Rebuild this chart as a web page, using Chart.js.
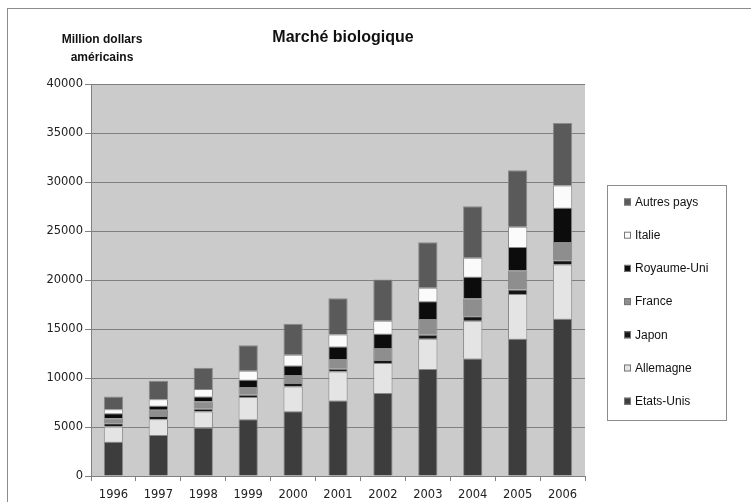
<!DOCTYPE html>
<html>

<head>
  <meta charset="utf-8">
  <title>Marché biologique</title>
  <style>
    html, body {
      margin: 0;
      padding: 0;
      background: #fff;
    }

    .wrap {
      position: relative;
      width: 751px;
      height: 502px;
    }
  </style>
</head>

<body>
  <div class="wrap">
    <canvas id="bio-chart" width="751" height="502"></canvas>
  </div>

  <script src="https://cdn.jsdelivr.net/npm/chart.js"></script>

  <script>
    // values, million USD
    const years = ['1996', '1997', '1998', '1999', '2000', '2001', '2002', '2003', '2004', '2005', '2006'];
    const etatsUnis = [3500, 4190, 4940, 5800, 6610, 7700, 8460, 10910, 12000, 14010, 16050];
    const allemagne = [1540, 1610, 1640, 2250, 2520, 2970, 3060, 3100, 3850, 4570, 5520];
    const japon = [350, 330, 270, 230, 350, 270, 310, 410, 440, 440, 440];
    const france = [510, 620, 750, 790, 820, 990, 1230, 1600, 1810, 1940, 1880];
    const royaumeUni = [510, 410, 510, 750, 980, 1290, 1460, 1800, 2220, 2420, 3480];
    const italie = [410, 680, 760, 920, 1090, 1230, 1330, 1400, 1940, 2050, 2280];
    const autresPays = [1290, 1870, 2170, 2590, 3170, 3680, 4190, 4640, 5270, 5760, 6370];
    const yTicks = [0, 5000, 10000, 15000, 20000, 25000, 30000, 35000, 40000];

    const tickFont = { family: 'DejaVu Sans', size: 11.5 };

    function ds(label, data, color) {
      return {
        label: label,
        data: data,
        backgroundColor: color,
        borderColor: '#8a8a8a',
        borderWidth: 1,
        barPercentage: 0.43,
        categoryPercentage: 1
      };
    }

    // frame, titles, plot background and legend box
    const decor = {
      id: 'decor',
      beforeDraw(chart) {
        const { ctx, chartArea: a } = chart;
        ctx.save();
        ctx.fillStyle = '#fff';
        ctx.fillRect(0, 0, chart.width, chart.height);
        // outer frame runs off the right and bottom edges
        ctx.strokeStyle = '#8c8c8c';
        ctx.lineWidth = 1;
        ctx.strokeRect(7.5, 8.5, 800, 600);
        ctx.fillStyle = '#cbcbcb';
        ctx.fillRect(a.left, a.top, a.right - a.left, a.bottom - a.top);
        ctx.restore();
      },
      afterDraw(chart) {
        const { ctx } = chart;
        ctx.save();
        ctx.fillStyle = '#111';
        ctx.textAlign = 'center';
        ctx.textBaseline = 'middle';
        ctx.font = 'bold 16px "Liberation Sans"';
        ctx.fillText('Marché biologique', 343, 38);
        ctx.font = 'bold 12px "Liberation Sans"';
        ctx.fillText('Million dollars', 102, 40);
        ctx.fillText('américains', 102, 58);

        // legend, last series on top
        ctx.strokeStyle = '#8c8c8c';
        ctx.strokeRect(607.5, 185.5, 119, 235);
        ctx.textAlign = 'left';
        ctx.font = '12px "Liberation Sans"';
        const sets = chart.data.datasets.slice().reverse();
        sets.forEach((d, i) => {
          const y = 202 + i * 33.2;
          ctx.fillStyle = d.backgroundColor;
          ctx.fillRect(624, y - 3.5, 7, 7);
          ctx.strokeStyle = '#777';
          ctx.strokeRect(624.5, y - 3, 6, 6);
          ctx.fillStyle = '#111';
          ctx.fillText(d.label, 635, y + 0.5);
        });
        ctx.restore();
      }
    };

    new Chart(document.getElementById('bio-chart'), {
      type: 'bar',
      data: {
        labels: years,
        datasets: [
          ds('Etats-Unis', etatsUnis, '#3d3d3d'),
          ds('Allemagne', allemagne, '#e4e4e4'),
          ds('Japon', japon, '#161616'),
          ds('France', france, '#8e8e8e'),
          ds('Royaume-Uni', royaumeUni, '#0c0c0c'),
          ds('Italie', italie, '#fbfbfb'),
          ds('Autres pays', autresPays, '#5a5a5a')
        ]
      },
      options: {
        responsive: false,
        animation: false,
        layout: { padding: { left: 41, top: 84, right: 166, bottom: 0 } },
        plugins: {
          legend: { display: false },
          title: { display: false },
          tooltip: { enabled: false }
        },
        scales: {
          x: {
            stacked: true,
            afterFit(scale) { scale.height = 26; },
            grid: {
              offset: true,
              drawOnChartArea: false,
              drawTicks: true,
              tickLength: 5,
              color: '#808080'
            },
            border: { color: '#808080' },
            ticks: { font: tickFont, color: '#222', padding: 7 }
          },
          y: {
            stacked: true,
            min: 0,
            max: 40000,
            afterFit(scale) { scale.width = 50; },
            afterBuildTicks(scale) { scale.ticks = yTicks.map(v => ({ value: v })); },
            grid: { color: '#808080', tickLength: 6 },
            border: { color: '#808080' },
            ticks: { font: tickFont, color: '#222', padding: 2, callback: v => String(v) }
          }
        }
      },
      plugins: [decor]
    });
  </script>
</body>

</html>
